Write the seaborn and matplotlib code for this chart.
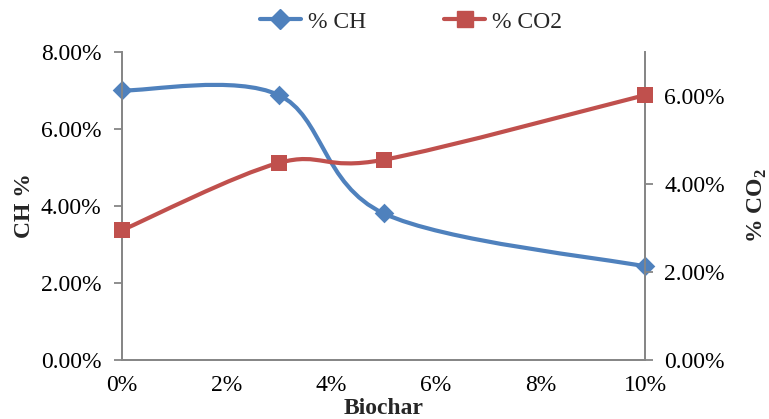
import numpy as np
import matplotlib
matplotlib.use("Agg")
import matplotlib.pyplot as plt
from matplotlib.path import Path
from matplotlib.patches import PathPatch
from matplotlib.lines import Line2D
import matplotlib.ticker as mticker
import seaborn as sns
import pandas as pd

# Data
biochar = [0, 3, 5, 10]            # % biochar
ch_pct = [7.00, 6.88, 3.81, 2.43]  # % CH (left axis)
co2_pct = [2.95, 4.48, 4.55, 6.02] # % CO2 (right axis)
x_ticks = [0, 2, 4, 6, 8, 10]
left_ticks = [0, 2, 4, 6, 8]
right_ticks = [0, 2, 4, 6]

BLUE = "#4F81BD"
RED = "#C0504D"
GRAY = "#868686"
FS = 17

sns.set_theme(style="white")
plt.rcParams["font.family"] = ["Liberation Serif", "DejaVu Serif"]
plt.rcParams["mathtext.fontset"] = "custom"
plt.rcParams["mathtext.rm"] = "Liberation Serif"
plt.rcParams["mathtext.bf"] = "Liberation Serif:bold"

W, H = 769, 419
L, R, B, T = 122, 645, 360, 52
fig = plt.figure(figsize=(W / 100, H / 100), dpi=100)
ax = fig.add_axes([L / W, 1 - B / H, (R - L) / W, (B - T) / H])
ax2 = ax.twinx()


def smooth_path(xs, ys):
    pts = np.column_stack([xs, ys]).astype(float)
    n = len(pts)
    verts = [pts[0]]
    codes = [Path.MOVETO]
    for i in range(n - 1):
        p0 = pts[i - 1] if i > 0 else pts[i]
        p1 = pts[i]
        p2 = pts[i + 1]
        p3 = pts[i + 2] if i + 2 < n else pts[i + 1]
        c1 = p1 + (p2 - p0) / 6.0
        c2 = p2 - (p3 - p1) / 6.0
        verts += [c1, c2, p2]
        codes += [Path.CURVE4] * 3
    return Path(verts, codes)


ax.add_patch(PathPatch(smooth_path(biochar, ch_pct), fill=False,
                       edgecolor=BLUE, lw=3.0, capstyle="round", joinstyle="round", zorder=3))
ax2.add_patch(PathPatch(smooth_path(biochar, co2_pct), fill=False,
                        edgecolor=RED, lw=3.0, capstyle="round", joinstyle="round", zorder=3))

df = pd.DataFrame({"x": biochar, "ch": ch_pct, "co2": co2_pct})
sns.scatterplot(data=df, x="x", y="ch", ax=ax, marker="D", s=100, color=BLUE,
                edgecolor=BLUE, linewidth=0, zorder=4, clip_on=False)
sns.scatterplot(data=df, x="x", y="co2", ax=ax2, marker="s", s=120, color=RED,
                edgecolor=RED, linewidth=0, zorder=4, clip_on=False)

ax.set_xlim(0, 10)
ax.set_ylim(0, 8)
ax2.set_ylim(0, 7)
ax.set_xticks(x_ticks)
ax.set_yticks(left_ticks)
ax2.set_yticks(right_ticks)
ax.xaxis.set_major_formatter(mticker.FuncFormatter(lambda v, p: f"{v:.0f}%"))
ax.yaxis.set_major_formatter(mticker.FuncFormatter(lambda v, p: f"{v:.2f}%"))
ax2.yaxis.set_major_formatter(mticker.FuncFormatter(lambda v, p: f"{v:.2f}%"))

for a in (ax, ax2):
    for s in a.spines.values():
        s.set_color(GRAY)
        s.set_linewidth(1.3)
    a.spines["top"].set_visible(False)
    a.tick_params(colors=GRAY, labelcolor="black", labelsize=FS, length=6, width=1.3, direction="out")
    a.grid(False)
ax.tick_params(axis="y", pad=9)
ax2.tick_params(axis="y", pad=8)
ax.tick_params(axis="x", pad=5)

ax.set_xlabel("Biochar", fontsize=FS, fontweight="bold")
ax.set_ylabel("CH %", fontsize=FS, fontweight="bold")
ax2.set_ylabel(r"% CO$_\mathbf{2}$", fontsize=FS, fontweight="bold")
for lab in (ax.xaxis.label, ax.yaxis.label, ax2.yaxis.label):
    lab.set_verticalalignment("center")
    lab.set_horizontalalignment("center")
    lab.set_rotation_mode("anchor")
ax.xaxis.set_label_coords(0.5, (B - 408) / (B - T))
ax.yaxis.set_label_coords((24 - L) / (R - L), 0.5)
ax2.yaxis.set_label_coords((757 - L) / (R - L), 0.5)

handles = [
    Line2D([0], [0], color=BLUE, lw=3.0, marker="D", markersize=10, label="% CH"),
    Line2D([0], [0], color=RED, lw=3.0, marker="s", markersize=11, label="% CO2"),
]
fig.legend(handles=handles, loc="center", bbox_to_anchor=(411 / W, 1 - 22 / H), ncol=2,
           frameon=False, fontsize=FS, handlelength=1.75, columnspacing=3.3, handletextpad=0.3)

fig.savefig("out.png", dpi=100)
